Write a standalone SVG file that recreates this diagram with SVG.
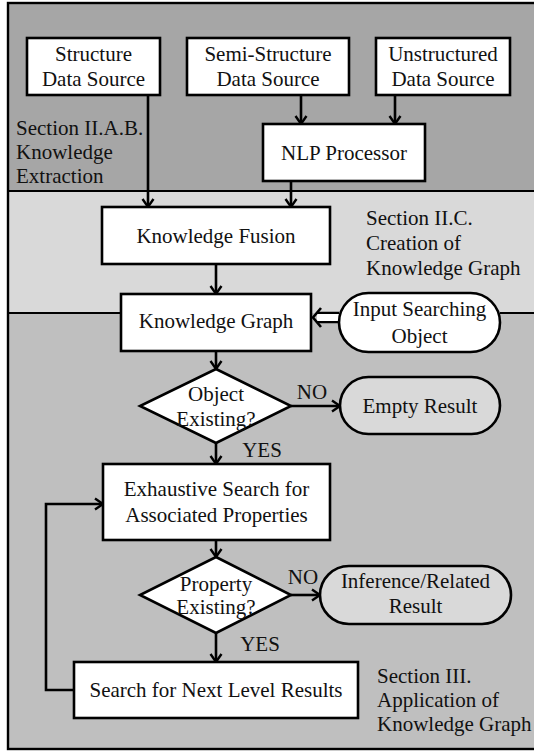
<svg xmlns="http://www.w3.org/2000/svg" width="534" height="752" viewBox="0 0 534 752" font-family="'Liberation Serif', 'Times New Roman', serif">
<defs>
<style>
text{font-size:21px;fill:#111;}
.c{text-anchor:middle;}
.box{fill:#fff;stroke:#000;stroke-width:2.6;}
.term{fill:#d9d9d9;stroke:#000;stroke-width:2.6;}
.conn{fill:none;stroke:#000;stroke-width:2.6;}
.sep{fill:none;stroke:#000;stroke-width:2.2;}
</style>
<marker id="ah" markerUnits="userSpaceOnUse" markerWidth="14" markerHeight="14" refX="11" refY="7" orient="auto">
<path d="M3,1.5 L11,7 L3,12.5" fill="none" stroke="#000" stroke-width="2.4"/>
</marker>
</defs>
<g id="background">
<rect x="8" y="3" width="540" height="188" fill="#a6a6a6"/>
<rect x="8" y="191" width="540" height="122" fill="#d9d9d9"/>
<rect x="8" y="313" width="540" height="436" fill="#bfbfbf"/>
<path class="sep" d="M8,191 H540"/>
<path class="sep" d="M8,313 H121 M500,313 H540"/>
<rect x="8" y="3" width="540" height="746" fill="none" stroke="#000" stroke-width="2.4"/>
</g>
<g id="labels">
<text x="16" y="135">Section II.A.B.</text>
<text x="16" y="159">Knowledge</text>
<text x="16" y="183">Extraction</text>
<text x="366" y="225">Section II.C.</text>
<text x="366" y="250">Creation of</text>
<text x="366" y="275">Knowledge Graph</text>
<text x="377" y="683">Section III.</text>
<text x="377" y="707">Application of</text>
<text x="377" y="731">Knowledge Graph</text>
</g>
<g id="connectors">
<path class="conn" d="M301,95 V124" marker-end="url(#ah)"/>
<path class="conn" d="M395,95 V124" marker-end="url(#ah)"/>
<path class="conn" d="M148,95 V207" marker-end="url(#ah)"/>
<path class="conn" d="M291,181 V207" marker-end="url(#ah)"/>
<path class="conn" d="M216,264 V294" marker-end="url(#ah)"/>
<path class="conn" d="M339,313 H317 M339,322 H317"/>
<path d="M317,314 H339 V321 H317 Z" fill="#fff"/>
<path class="conn" d="M321,308 L313,317.5 L321,327"/>
<path class="conn" d="M216,351 V369" marker-end="url(#ah)"/>
<path class="conn" d="M291,406 H340" marker-end="url(#ah)"/>
<path class="conn" d="M216,443 V464" marker-end="url(#ah)"/>
<path class="conn" d="M216,540 V557" marker-end="url(#ah)"/>
<path class="conn" d="M291,595 H320" marker-end="url(#ah)"/>
<path class="conn" d="M216,633 V662" marker-end="url(#ah)"/>
<path class="conn" d="M74,690 H46 V504 H103" marker-end="url(#ah)"/>
<text class="c" x="312" y="399">NO</text>
<text class="c" x="262" y="457">YES</text>
<text class="c" x="303" y="584">NO</text>
<text class="c" x="260" y="651">YES</text>
</g>
<g id="structure-source">
<rect class="box" x="27" y="38" width="133" height="57"/>
<text class="c" x="93.5" y="61">Structure</text>
<text class="c" x="93.5" y="86">Data Source</text>
</g>
<g id="semi-structure-source">
<rect class="box" x="187" y="38" width="162" height="57"/>
<text class="c" x="268" y="61">Semi-Structure</text>
<text class="c" x="268" y="86">Data Source</text>
</g>
<g id="unstructured-source">
<rect class="box" x="376" y="38" width="134" height="57"/>
<text class="c" x="443" y="61">Unstructured</text>
<text class="c" x="443" y="86">Data Source</text>
</g>
<g id="nlp-processor">
<rect class="box" x="263" y="124" width="162" height="57"/>
<text class="c" x="344" y="160">NLP Processor</text>
</g>
<g id="knowledge-fusion">
<rect class="box" x="102" y="207" width="228" height="57"/>
<text class="c" x="216" y="243">Knowledge Fusion</text>
</g>
<g id="knowledge-graph">
<rect class="box" x="121" y="294" width="190" height="57"/>
<text class="c" x="216" y="328">Knowledge Graph</text>
</g>
<g id="input-searching-object">
<rect class="box" x="339" y="293" width="161" height="59" rx="29.5"/>
<text class="c" x="419.5" y="316">Input Searching</text>
<text class="c" x="419.5" y="343">Object</text>
</g>
<g id="object-existing">
<polygon class="box" points="216,369 291,406 216,443 140,406"/>
<text class="c" x="216" y="401">Object</text>
<text class="c" x="216" y="426">Existing?</text>
</g>
<g id="empty-result">
<rect class="term" x="340" y="377" width="160" height="57" rx="28.5"/>
<text class="c" x="420" y="413">Empty Result</text>
</g>
<g id="exhaustive-search">
<rect class="box" x="103" y="464" width="227" height="76"/>
<text class="c" x="216.5" y="496">Exhaustive Search for</text>
<text class="c" x="216.5" y="522">Associated Properties</text>
</g>
<g id="property-existing">
<polygon class="box" points="216,557 291,595 216,633 140,595"/>
<text class="c" x="216" y="591">Property</text>
<text class="c" x="216" y="614">Existing?</text>
</g>
<g id="inference-result">
<rect class="term" x="320" y="566" width="191" height="58" rx="29"/>
<text class="c" x="415.5" y="588">Inference/Related</text>
<text class="c" x="415.5" y="613">Result</text>
</g>
<g id="next-level-search">
<rect class="box" x="74" y="662" width="284" height="56"/>
<text class="c" x="216" y="697">Search for Next Level Results</text>
</g>
</svg>
